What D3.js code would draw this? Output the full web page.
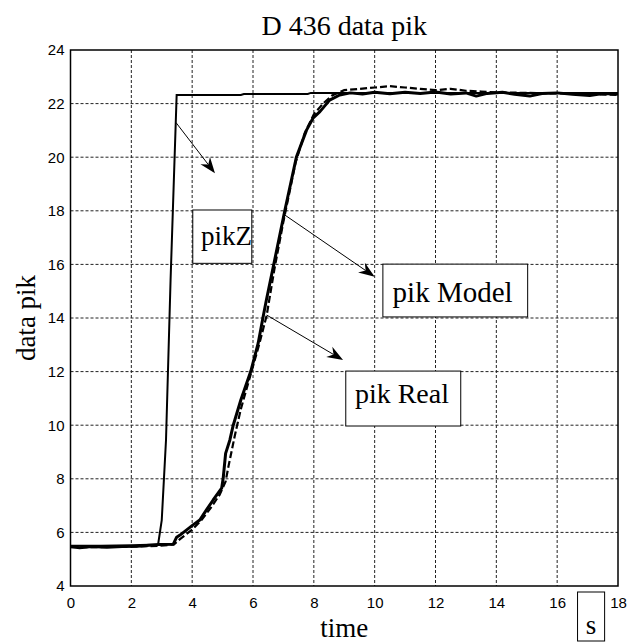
<!DOCTYPE html>
<html><head><meta charset="utf-8">
<script src="https://cdn.jsdelivr.net/npm/d3@7"></script>
<style>body{margin:0;background:#fff}</style>
</head><body>
<svg id="c" width="635" height="642"></svg>
<script>
const title = "D 436 data pik";
const xLabel = "time";
const yLabel = "data pik";
const unitLabel = "s";
const xTicks = [0,2,4,6,8,10,12,14,16,18];
const yTicks = [4,6,8,10,12,14,16,18,20,22,24];

const pikZT = [0, 1, 2, 2.88, 3.0, 3.14, 3.29, 3.49, 5.6, 5.7, 7.8, 7.9, 18];
const pikZV = [5.5, 5.5, 5.52, 5.55, 6.46, 9.45, 15.42, 22.32, 22.32, 22.36, 22.36, 22.4, 22.4];

const realT = [0,0.3,0.7,1.2,1.7,2.2,2.6,2.9,3.38,3.49,3.6,4.03,4.25,4.47,4.69,4.97,5.02,5.1,5.24,5.35,5.6,5.93,6.17,6.33,6.44,6.69,7.05,7.43,7.76,7.98,8.2,8.52,8.85,9.2,9.6,10.0,10.5,11.0,11.5,12.0,12.5,13.0,13.34,13.7,14.2,14.6,15.1,15.5,16.0,16.5,17.07,17.5,18];
const realV = [5.47,5.43,5.47,5.45,5.47,5.48,5.52,5.55,5.56,5.82,5.9,6.28,6.46,6.84,7.21,7.65,8.02,8.95,9.45,10.0,10.94,12.02,13.06,14.03,14.67,16.04,18.03,20.02,21.01,21.47,21.7,22.13,22.32,22.4,22.36,22.42,22.37,22.42,22.38,22.43,22.36,22.4,22.28,22.38,22.42,22.35,22.28,22.38,22.4,22.35,22.3,22.38,22.36];

const modelT = [0,1,2,2.9,3.4,3.6,4.0,4.3,4.6,4.9,5.1,5.2,5.4,5.6,5.9,6.2,6.45,6.7,7.0,7.4,7.7,8.0,8.3,8.6,9.0,9.5,10.0,10.5,11.0,11.5,12.0,12.5,13,13.5,14,15,16,17,18];
const modelV = [5.45,5.45,5.47,5.5,5.55,5.75,6.1,6.45,6.9,7.4,7.9,8.5,9.6,10.6,11.8,13.0,14.1,15.8,17.6,19.8,20.9,21.6,22.0,22.3,22.5,22.55,22.6,22.65,22.6,22.55,22.5,22.55,22.48,22.45,22.42,22.4,22.38,22.36,22.32];

const noteTexts = ["pikZ", "pik Model", "pik Real"];
const noteSizes = [27, 29, 28];
const noteBoxX0 = [4.02, 10.27, 9.05];
const noteBoxX1 = [5.96, 15.03, 12.83];
const noteBoxY0 = [16.04, 14.04, 9.97];
const noteBoxY1 = [18.03, 16.01, 12.02];
const noteTextX = [4.29, 10.59, 9.35];
const noteTextY = [16.72, 14.61, 10.83];
const arrowX0 = [3.47, 7.05, 6.45];
const arrowY0 = [21.29, 17.84, 14.11];
const arrowX1 = [4.75, 10.0, 8.96];
const arrowY1 = [19.4, 15.54, 12.43];
const unitBoxX = [16.67, 17.56];

const L = 70.5, R = 618, T = 50, B = 586;
const x = d3.scaleLinear().domain([0,18]).range([L,R]);
const y = d3.scaleLinear().domain([4,24]).range([B,T]);
const svg = d3.select("#c");
const serif = "'Liberation Serif','Times New Roman',serif";
const sans = "'Liberation Sans',Arial,sans-serif";

// grid
const g = svg.append("g");
g.selectAll("line.gx").data(xTicks.slice(1,-1)).join("line")
  .attr("x1", d=>x(d)).attr("x2", d=>x(d)).attr("y1", T).attr("y2", B)
  .attr("stroke","#222").attr("stroke-width",1).attr("stroke-dasharray","3,2");
g.selectAll("line.gy").data(yTicks.slice(1,-1)).join("line")
  .attr("y1", d=>y(d)).attr("y2", d=>y(d)).attr("x1", L).attr("x2", R)
  .attr("stroke","#222").attr("stroke-width",1).attr("stroke-dasharray","3,2");

// axes
const xAxis = d3.axisBottom(x).tickValues(xTicks).tickSize(0).tickPadding(8).tickFormat(d3.format("d"));
const yAxis = d3.axisLeft(y).tickValues(yTicks).tickSize(0).tickPadding(6).tickFormat(d3.format("d"));
const ax = svg.append("g").attr("transform",`translate(0,${B})`).call(xAxis);
const ay = svg.append("g").attr("transform",`translate(${L},0)`).call(yAxis);
[ax, ay].forEach(a => {
  a.select(".domain").remove();
  a.selectAll("text").attr("font-family", sans).attr("font-size", 15).attr("fill","#000");
});
ax.selectAll("text").attr("dy","0.9em");
svg.append("rect").attr("x",L).attr("y",T).attr("width",R-L).attr("height",B-T)
  .attr("fill","none").attr("stroke","#000").attr("stroke-width",1.5);

// lines
const line = d3.line().x(d=>x(d[0])).y(d=>y(d[1]));
const zip = (a,b)=>a.map((t,i)=>[t,b[i]]);
svg.append("path").datum(zip(realT, realV)).attr("d", line)
  .attr("fill","none").attr("stroke","#000").attr("stroke-width",3).attr("stroke-linejoin","round");
svg.append("path").datum(zip(modelT, modelV)).attr("d", line)
  .attr("fill","none").attr("stroke","#000").attr("stroke-width",2.2).attr("stroke-dasharray","7,3");
svg.append("path").datum(zip(pikZT, pikZV)).attr("d", line)
  .attr("fill","none").attr("stroke","#000").attr("stroke-width",2);

// annotations
noteTexts.forEach((t,i) => {
  svg.append("rect").attr("x", x(noteBoxX0[i])).attr("y", y(noteBoxY1[i]))
    .attr("width", x(noteBoxX1[i]) - x(noteBoxX0[i])).attr("height", y(noteBoxY0[i]) - y(noteBoxY1[i]))
    .attr("fill","#fff").attr("stroke","#000").attr("stroke-width",1);
  svg.append("text").attr("x", x(noteTextX[i])).attr("y", y(noteTextY[i]))
    .attr("font-family", serif).attr("font-size", noteSizes[i]).text(t);
  const x0 = x(arrowX0[i]), y0 = y(arrowY0[i]), x1 = x(arrowX1[i]), y1 = y(arrowY1[i]);
  const ang = Math.atan2(y1-y0, x1-x0);
  const Lh = 16, W = 6, N = 5;
  const len = Math.hypot(x1-x0, y1-y0);
  svg.append("line").attr("x1", x0).attr("y1", y0)
    .attr("x2", x0 + (len-Lh+N)*Math.cos(ang)).attr("y2", y0 + (len-Lh+N)*Math.sin(ang))
    .attr("stroke","#000").attr("stroke-width",1);
  svg.append("path").attr("d", `M0,0L${-Lh},${-W}L${-Lh+N},0L${-Lh},${W}Z`)
    .attr("transform", `translate(${x1},${y1}) rotate(${ang*180/Math.PI})`).attr("fill","#000");
});

// titles
svg.append("text").attr("x",(L+R)/2).attr("y",35).attr("text-anchor","middle")
  .attr("font-family",serif).attr("font-size",28).text(title);
svg.append("text").attr("x",(L+R)/2).attr("y",637).attr("text-anchor","middle")
  .attr("font-family",serif).attr("font-size",27).text(xLabel);
svg.append("text").attr("transform",`translate(35,${(T+B)/2}) rotate(-90)`).attr("text-anchor","middle")
  .attr("font-family",serif).attr("font-size",27).text(yLabel);
svg.append("rect").attr("x", x(unitBoxX[0])).attr("y", 592).attr("width", x(unitBoxX[1]) - x(unitBoxX[0])).attr("height", 49)
  .attr("fill","none").attr("stroke","#000").attr("stroke-width",1);
svg.append("text").attr("x", (x(unitBoxX[0]) + x(unitBoxX[1]))/2).attr("y", 634).attr("text-anchor","middle")
  .attr("font-family",serif).attr("font-size",27).text(unitLabel);
</script>
</body></html>
